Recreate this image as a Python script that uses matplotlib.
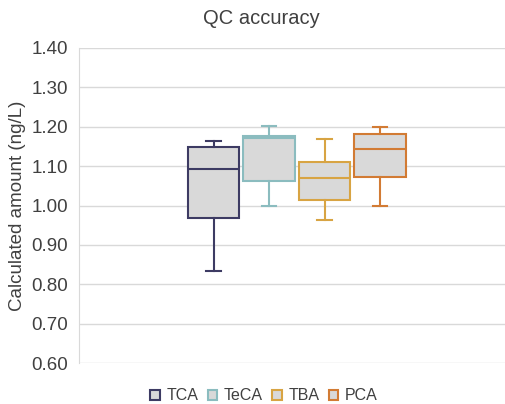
import matplotlib.pyplot as plt
from matplotlib.patches import Patch

plt.rcParams['font.family'] = ['Liberation Sans', 'DejaVu Sans']

compounds = ["TCA", "TeCA", "TBA", "PCA"]
whislo = [0.834, 1.000, 0.962, 1.000]
q1 = [0.967, 1.063, 1.013, 1.073]
med = [1.092, 1.171, 1.071, 1.144]
q3 = [1.149, 1.177, 1.111, 1.182]
whishi = [1.165, 1.203, 1.170, 1.200]
colors = ["#3d3b63", "#8bbcbf", "#d8a443", "#d27b34"]
fill = "#d9d9d9"

fig = plt.figure(figsize=(5.06, 4.04), dpi=100)
ax = fig.add_axes([79 / 506, 1 - 363 / 404, 1 - 79 / 506, (363 - 48) / 404])

stats = []
for i, name in enumerate(compounds):
    stats.append(dict(label=name, whislo=whislo[i], q1=q1[i], med=med[i],
                      q3=q3[i], whishi=whishi[i], fliers=[]))

positions = [1, 2, 3, 4]
res = ax.bxp(stats, positions=positions, widths=0.92, patch_artist=True,
             showfliers=False, manage_ticks=False)
for i, c in enumerate(colors):
    res['boxes'][i].set_facecolor(fill)
    res['boxes'][i].set_edgecolor(c)
    res['boxes'][i].set_linewidth(1.5)
    res['medians'][i].set_color(c)
    res['medians'][i].set_linewidth(1.5)
    for w in res['whiskers'][2 * i:2 * i + 2]:
        w.set_color(c)
        w.set_linewidth(1.5)
    for cap in res['caps'][2 * i:2 * i + 2]:
        cap.set_color(c)
        cap.set_linewidth(1.5)
        xd = cap.get_xdata()
        mid = (xd[0] + xd[1]) / 2
        cap.set_xdata([mid - 0.135, mid + 0.135])

ax.set_xlim(1 - 134.5 / 55.5, 1 + 292.5 / 55.5)
ax.set_ylim(0.60, 1.40)
ax.set_yticks([0.60, 0.70, 0.80, 0.90, 1.00, 1.10, 1.20, 1.30, 1.40])
ax.set_yticklabels([f"{v:.2f}" for v in ax.get_yticks()], fontsize=13.5, color="#404040")
ax.set_xticks([])
ax.tick_params(axis='y', length=0, pad=8)
ax.grid(axis='y', color="#d9d9d9", linewidth=1)
ax.set_axisbelow(True)
for s in ['top', 'right', 'bottom']:
    ax.spines[s].set_visible(False)
ax.spines['left'].set_color("#d9d9d9")
ax.set_ylabel("Calculated amount (ng/L)", fontsize=13.5, color="#404040", labelpad=4)

fig.text(261 / 506, 1 - 19 / 404, "QC accuracy", fontsize=14.5, color="#404040",
         ha='center', va='center')

handles = [Patch(facecolor=fill, edgecolor=c, linewidth=1.5, label=n)
           for n, c in zip(compounds, colors)]
fig.legend(handles=handles, loc='center', bbox_to_anchor=(264 / 506, 1 - 396 / 404),
           ncol=4, frameon=False, fontsize=11.5, handlelength=0.6, handleheight=0.6,
           handletextpad=0.4, columnspacing=0.6, labelcolor="#404040")

fig.savefig("out.png", dpi=100)
